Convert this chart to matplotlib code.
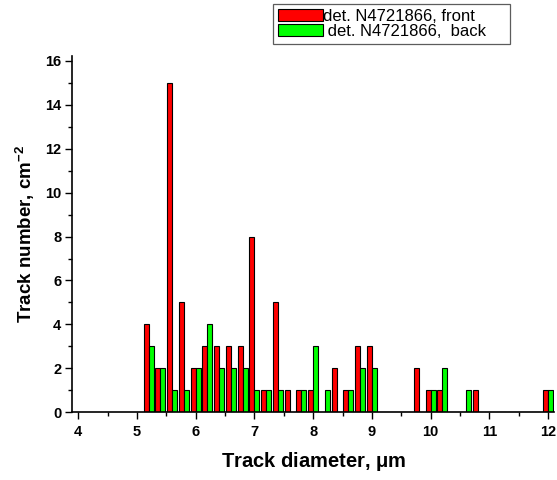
"""Track diameter histogram, front vs back of detector N4721866."""

import matplotlib
matplotlib.use("Agg")
import matplotlib.pyplot as plt
import numpy as np
from matplotlib.ticker import MultipleLocator

plt.rcParams["font.family"] = ["Liberation Sans", "DejaVu Sans"]
plt.rcParams["mathtext.fontset"] = "custom"
plt.rcParams["mathtext.rm"] = "Liberation Sans:bold"
plt.rcParams["mathtext.bf"] = "Liberation Sans:bold"

# bin centres (um) and track counts per bin
diameters = [5.2, 5.4, 5.6, 5.8, 6.0, 6.2, 6.4, 6.6, 6.8, 7.0, 7.2, 7.4, 7.6, 7.8,
             8.0, 8.2, 8.4, 8.6, 8.8, 9.0, 9.2, 9.4, 9.6, 9.8, 10.0, 10.2, 10.4,
             10.6, 10.8, 11.0, 11.2, 11.4, 11.6, 11.8, 12.0]
front = [4, 2, 15, 5, 2, 3, 3, 3, 3, 8, 1, 5, 1, 1,
         1, 0, 2, 1, 3, 3, 0, 0, 0, 2, 1, 1, 0,
         0, 1, 0, 0, 0, 0, 0, 1]
back = [3, 2, 1, 1, 2, 4, 2, 2, 2, 1, 1, 1, 0, 1,
        3, 1, 0, 1, 2, 2, 0, 0, 0, 0, 1, 2, 0,
        1, 0, 0, 0, 0, 0, 0, 1]

labels = ["det. N4721866, front", " det. N4721866,  back"]
x_ticks = [4, 5, 6, 7, 8, 9, 10, 11, 12]
y_ticks = [0, 2, 4, 6, 8, 10, 12, 14, 16]

fig = plt.figure(figsize=(5.57, 4.8), dpi=100)
ax = fig.add_axes([0.1298, 0.141, 0.865, 0.7415])

x = np.array(diameters)
w = 0.085
ax.bar(x - w / 2, front, width=w, color="#ff0000", edgecolor="black",
       linewidth=0.8, label=labels[0])
ax.bar(x + w / 2, back, width=w, color="#00ff00", edgecolor="black",
       linewidth=0.8, label=labels[1])

ax.set_xlim(3.9, 12.1)
ax.set_ylim(0, 16.2)
ax.set_xticks(x_ticks)
ax.set_yticks(y_ticks)
ax.xaxis.set_minor_locator(MultipleLocator(0.5))
ax.yaxis.set_minor_locator(MultipleLocator(1))
ax.tick_params(which="major", direction="out", length=5, width=1,
               labelsize=10.5)
ax.tick_params(axis="x", which="major", pad=4)
ax.tick_params(axis="y", which="major", pad=3)
ax.tick_params(which="minor", direction="out", length=3, width=1)
for lab in ax.get_xticklabels() + ax.get_yticklabels():
    lab.set_fontweight("bold")

for side in ("top", "right"):
    ax.spines[side].set_visible(False)
for side in ("left", "bottom"):
    ax.spines[side].set_linewidth(1.2)

ax.set_xlabel(r"Track diameter, $\mathbf{\mu}$m", fontsize=14.5,
              fontweight="bold", labelpad=8)
ax.set_ylabel(r"Track number, cm$^{-2}$", fontsize=13.5, fontweight="bold",
              labelpad=6)

# legend frame spans x 273..510 px, y 4..43 px of the figure
leg = fig.legend(loc="upper left",
                 bbox_to_anchor=(273 / 557, 1 - 43 / 480, 237 / 557, 39 / 480),
                 mode="expand", fontsize=12, frameon=True, fancybox=False,
                 handlelength=2.7, handleheight=0.7, handletextpad=0.0,
                 labelspacing=0.0, borderpad=0.3, borderaxespad=0)
leg.get_frame().set_edgecolor("#333333")
leg.get_frame().set_linewidth(0.9)

fig.savefig("out.png", dpi=100)
